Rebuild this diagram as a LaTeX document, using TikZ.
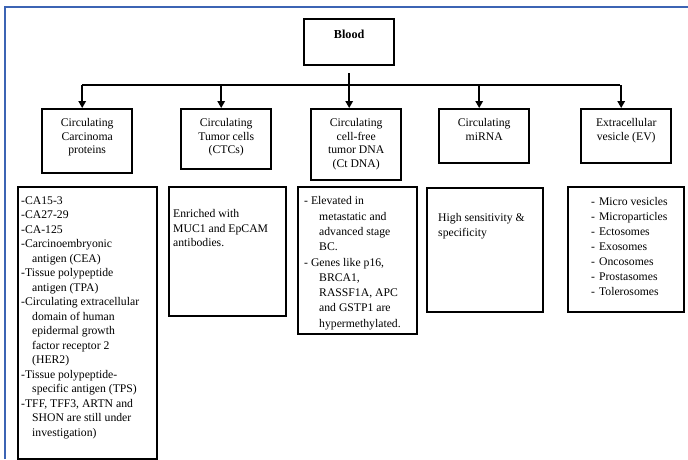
\documentclass[tikz,border=0pt]{standalone}
\usepackage{fontspec}
\setmainfont{Liberation Serif}
\usetikzlibrary{arrows.meta}
\definecolor{framecol}{RGB}{60,100,180}
% box content: width, height, gap above first line, setup, text
\newcommand{\panel}[5]{\begin{minipage}[t][#2][t]{#1}\vspace*{#3}#4\parindent=0pt #5\end{minipage}}
\newcommand{\hind}{\hspace*{11pt}}
\newcommand{\dind}{\hspace*{15pt}}

\begin{document}
\begin{tikzpicture}[x=1pt,y=-1pt,
	box/.style={draw,line width=2.4pt,inner sep=0pt,anchor=north west,font=\fontsize{11.7}{13.5}\selectfont},
	listbox/.style={box,font=\fontsize{11.7}{14.5}\selectfont},
	conn/.style={line width=1.5pt,-{Triangle[length=7pt,width=7.5pt]}}]

	\useasboundingbox (0,0) rectangle (688,459);
	\draw[framecol,line width=2pt] (5,459) -- (5,7) -- (688,7);

	\node[box,font=\fontsize{12.2}{14}\selectfont\bfseries] (blood) at (303,18) {\panel{90pt}{46pt}{11pt}{\centering}{Blood}};

	\node[box] (c1) at (41,108) {\panel{90pt}{64pt}{9.5pt}{\centering}{Circulating\\Carcinoma\\proteins}};
	\node[box] (c2) at (180,108) {\panel{90pt}{60pt}{9.5pt}{\centering}{Circulating\\Tumor cells\\(CTCs)}};
	\node[box] (c3) at (310,108) {\panel{90pt}{71pt}{9.5pt}{\centering}{Circulating\\cell-free\\tumor DNA\\(Ct DNA)}};
	\node[box] (c4) at (438,108) {\panel{90pt}{54pt}{9.5pt}{\centering}{Circulating\\miRNA}};
	\node[box] (c5) at (580,108) {\panel{90pt}{54pt}{9.5pt}{\centering}{Extracellular\\vesicle (EV)}};

	\node[listbox] (d1) at (17,186) {\panel{139pt}{272pt}{9.5pt}{\leftskip=3pt}{%
		-CA15-3\\
		-CA27-29\\
		-CA-125\\
		-Carcinoembryonic\\
		\hind antigen (CEA)\\
		-Tissue polypeptide\\
		\hind antigen (TPA)\\
		-Circulating extracellular\\
		\hind domain of human\\
		\hind epidermal growth\\
		\hind factor receptor 2\\
		\hind (HER2)\\
		-Tissue polypeptide-\\
		\hind specific antigen (TPS)\\
		-TFF, TFF3, ARTN and\\
		\hind SHON are still under\\
		\hind investigation)}};
	\node[listbox] (d2) at (168,186) {\panel{117pt}{129pt}{22.5pt}{\leftskip=4pt}{%
		Enriched with\\
		MUC1 and EpCAM\\
		antibodies.}};
	\node[listbox,font=\fontsize{11.7}{15.3}\selectfont] (d3) at (297,186) {\panel{119pt}{147pt}{9.5pt}{\leftskip=6pt}{%
		- Elevated in\\
		\dind metastatic and\\
		\dind advanced stage\\
		\dind BC.\\
		- Genes like p16,\\
		\dind BRCA1,\\
		\dind RASSF1A, APC\\
		\dind and GSTP1 are\\
		\dind hypermethylated.}};
	\node[listbox] (d4) at (426,187) {\panel{116pt}{124pt}{25.5pt}{\leftskip=11pt}{%
		High sensitivity \&\\
		specificity}};
	\node[listbox,font=\fontsize{11.7}{15}\selectfont] (d5) at (567,186) {\panel{116pt}{125pt}{10.5pt}{\leftskip=23pt}{%
		-\hspace{4pt}Micro vesicles\\
		-\hspace{4pt}Microparticles\\
		-\hspace{4pt}Ectosomes\\
		-\hspace{4pt}Exosomes\\
		-\hspace{4pt}Oncosomes\\
		-\hspace{4pt}Prostasomes\\
		-\hspace{4pt}Tolerosomes}};

	\coordinate (bus) at (0,85);
	\draw[conn] ([yshift=-7pt]blood.south) -- (blood.south |- c3.north);
	\draw[line width=1.5pt] ([xshift=-5pt]c1.north |- bus) -- ([xshift=-6pt]c5.north |- bus);
	\foreach \n in {1,2,4,5}
		\draw[conn] ([xshift=-5pt]c\n.north |- bus) -- ([xshift=-5pt]c\n.north);

\end{tikzpicture}
\end{document}
